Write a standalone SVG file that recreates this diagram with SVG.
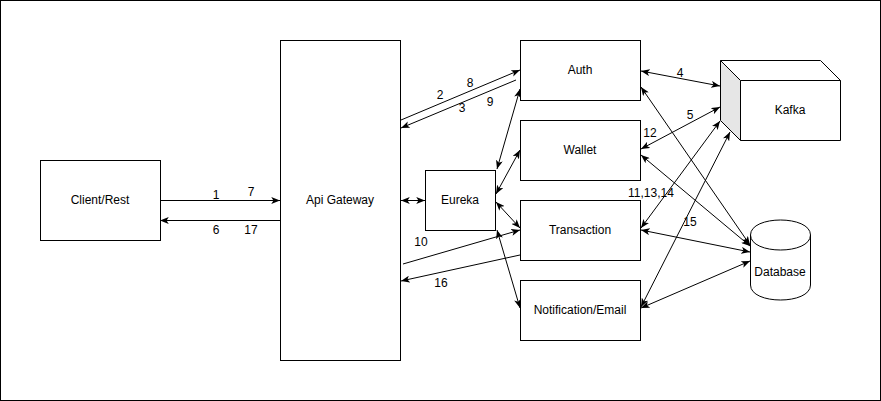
<svg xmlns="http://www.w3.org/2000/svg" width="881" height="401" viewBox="0 0 881 401">
<style>
.box{fill:#fff;stroke:#000;stroke-width:1}
.t{font-family:"Liberation Sans",Arial,sans-serif;font-size:12px;fill:#000;text-anchor:middle}
.c{fill:none;stroke:#000;stroke-width:1}
</style>
<defs>
<marker id="a" viewBox="0 0 10 8" refX="10" refY="4" markerWidth="9" markerHeight="7" markerUnits="userSpaceOnUse" orient="auto-start-reverse">
<path d="M0,0 L10,4 L0,8 L2.5,4 Z" fill="#000"/>
</marker>
</defs>
<rect x="0.5" y="0.5" width="880" height="400" fill="#fff" stroke="#000"/>
<g id="client"><rect class="box" x="40.5" y="160.5" width="120" height="80"/><text class="t" x="100" y="204">Client/Rest</text></g>
<g id="gateway"><rect class="box" x="280.5" y="40.5" width="120" height="320"/><text class="t" x="340" y="204">Api Gateway</text></g>
<g id="eureka"><rect class="box" x="425.5" y="170.5" width="70" height="60"/><text class="t" x="460" y="204">Eureka</text></g>
<g id="auth"><rect class="box" x="520.5" y="40.5" width="120" height="60"/><text class="t" x="580" y="74">Auth</text></g>
<g id="wallet"><rect class="box" x="520.5" y="120.5" width="120" height="60"/><text class="t" x="580" y="154">Wallet</text></g>
<g id="transaction"><rect class="box" x="520.5" y="200.5" width="120" height="60"/><text class="t" x="580" y="234">Transaction</text></g>
<g id="notification"><rect class="box" x="520.5" y="280.5" width="120" height="60"/><text class="t" x="580" y="314">Notification/Email</text></g>
<g id="kafka">
<path d="M720.5,60.5 L820.5,60.5 L840.5,80.5 L740.5,80.5 Z" fill="#fff"/>
<path d="M720.5,60.5 L740.5,80.5 L740.5,140.5 L720.5,120.5 Z" fill="#e6e6e6"/>
<rect x="740.5" y="80.5" width="100" height="60" fill="#fff"/>
<path d="M720.5,60.5 L820.5,60.5 L840.5,80.5 L840.5,140.5 L740.5,140.5 L720.5,120.5 Z M720.5,60.5 L740.5,80.5 L840.5,80.5 M740.5,80.5 L740.5,140.5" fill="none" stroke="#000"/>
<text class="t" x="790" y="114">Kafka</text>
</g>
<g id="database">
<path d="M750.5,235 C750.5,215 810.5,215 810.5,235 L810.5,285 C810.5,305 750.5,305 750.5,285 Z" fill="#fff" stroke="#000"/>
<path d="M750.5,235 C750.5,255 810.5,255 810.5,235" fill="none" stroke="#000"/>
<text class="t" x="780" y="276">Database</text>
</g>
<g id="connectors">
<line class="c" x1="160" y1="200.5" x2="280" y2="200.5" marker-end="url(#a)"/>
<line class="c" x1="280" y1="220.5" x2="160" y2="220.5" marker-end="url(#a)"/>
<line class="c" x1="401" y1="200.5" x2="425" y2="200.5" marker-start="url(#a)" marker-end="url(#a)"/>
<line class="c" x1="401" y1="120" x2="520" y2="70" marker-end="url(#a)"/>
<line class="c" x1="516" y1="80" x2="401" y2="128" marker-end="url(#a)"/>
<line class="c" x1="497" y1="169" x2="520" y2="89" marker-start="url(#a)" marker-end="url(#a)"/>
<line class="c" x1="496" y1="194" x2="520" y2="150" marker-start="url(#a)" marker-end="url(#a)"/>
<line class="c" x1="496" y1="202" x2="520" y2="228" marker-start="url(#a)" marker-end="url(#a)"/>
<line class="c" x1="497" y1="230" x2="520" y2="308" marker-start="url(#a)" marker-end="url(#a)"/>
<line class="c" x1="403" y1="264" x2="520" y2="230" marker-end="url(#a)"/>
<line class="c" x1="520" y1="255" x2="401" y2="281" marker-end="url(#a)"/>
<line class="c" x1="641" y1="71" x2="720" y2="86" marker-start="url(#a)" marker-end="url(#a)"/>
<line class="c" x1="641" y1="87" x2="750" y2="245" marker-start="url(#a)" marker-end="url(#a)"/>
<line class="c" x1="641" y1="149" x2="720" y2="107" marker-start="url(#a)" marker-end="url(#a)"/>
<line class="c" x1="641" y1="155" x2="750" y2="246" marker-start="url(#a)" marker-end="url(#a)"/>
<line class="c" x1="641" y1="228" x2="720" y2="121" marker-start="url(#a)" marker-end="url(#a)"/>
<line class="c" x1="641" y1="230" x2="750" y2="252" marker-start="url(#a)" marker-end="url(#a)"/>
<line class="c" x1="641" y1="307" x2="730" y2="132" marker-start="url(#a)" marker-end="url(#a)"/>
<line class="c" x1="641" y1="308" x2="750" y2="261" marker-start="url(#a)" marker-end="url(#a)"/>
</g>
<g id="labels">
<text class="t" x="216" y="199">1</text>
<text class="t" x="251" y="196">7</text>
<text class="t" x="216" y="234">6</text>
<text class="t" x="251" y="234">17</text>
<text class="t" x="440" y="99">2</text>
<text class="t" x="470" y="87">8</text>
<text class="t" x="462" y="112">3</text>
<text class="t" x="490" y="106">9</text>
<text class="t" x="421" y="246">10</text>
<text class="t" x="441" y="287">16</text>
<text class="t" x="680" y="77">4</text>
<text class="t" x="690" y="119">5</text>
<text class="t" x="650" y="137">12</text>
<text class="t" x="651" y="197">11,13,14</text>
<text class="t" x="690" y="226">15</text>
</g>
</svg>
